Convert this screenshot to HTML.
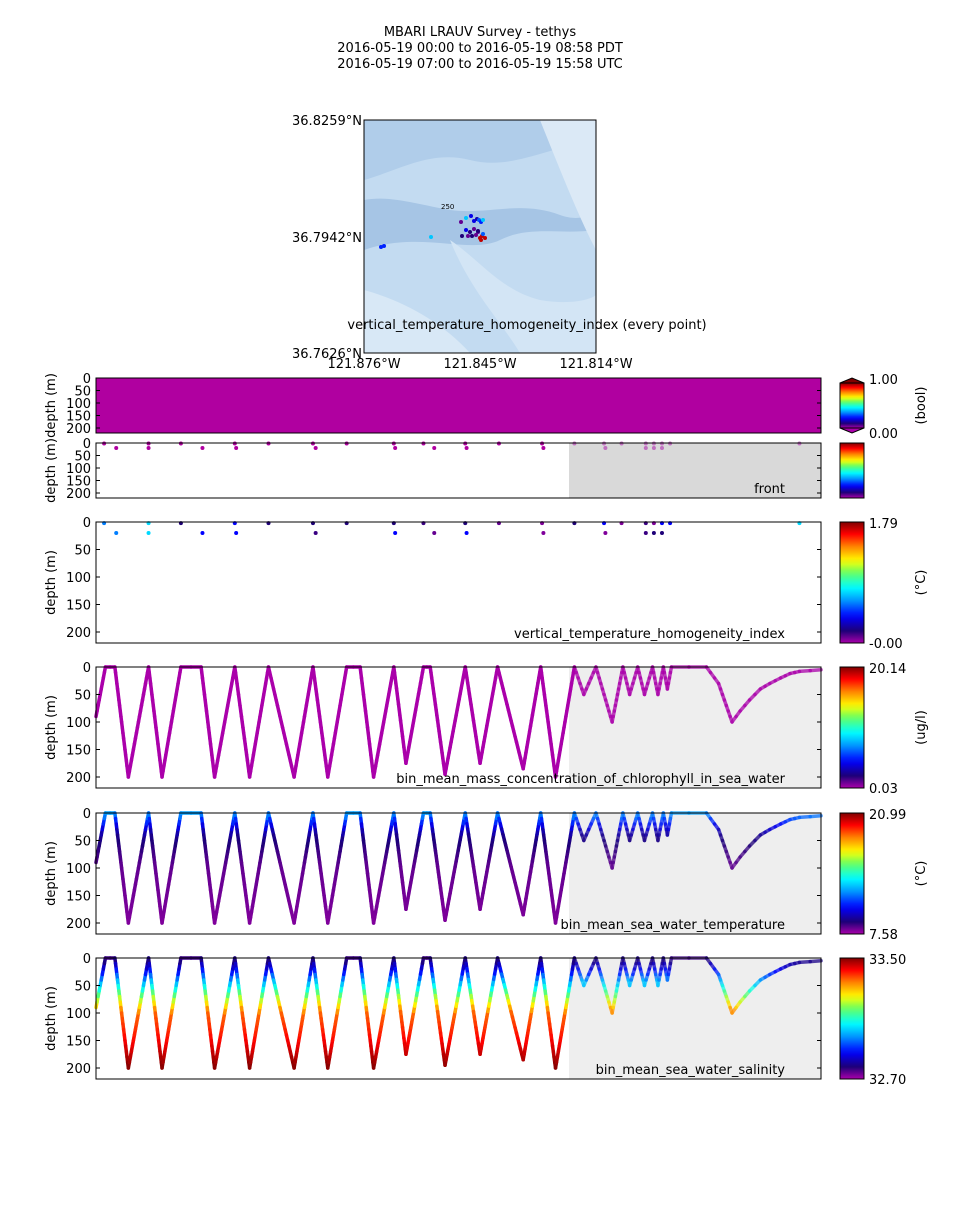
<!DOCTYPE html>
<html><head><meta charset="utf-8"><style>
body{margin:0;background:#fff;}
svg text{font-family:"DejaVu Sans","Liberation Sans",sans-serif;fill:#000;}
</style></head><body>
<svg id="fig" width="960" height="1200" xmlns="http://www.w3.org/2000/svg">
<text x="480" y="36" text-anchor="middle" font-size="13">MBARI LRAUV Survey - tethys</text>
<text x="480" y="52" text-anchor="middle" font-size="13">2016-05-19 00:00  to  2016-05-19 08:58 PDT</text>
<text x="480" y="68" text-anchor="middle" font-size="13">2016-05-19 07:00  to  2016-05-19 15:58 UTC</text>
<g id="map">
<rect x="364" y="120" width="232" height="233" fill="#c3dbf1"/>
<path d="M364,180 C400,170 430,150 470,160 C510,170 540,150 596,140 L596,120 L364,120Z" fill="#b0cdea"/>
<path d="M364,200 C390,195 420,205 450,210 C490,215 520,200 560,215 C580,222 590,215 596,210 L596,230 C560,235 530,225 500,240 C470,255 420,230 364,250Z" fill="#a6c5e5"/>
<path d="M450,240 C480,260 500,290 540,300 C570,305 590,300 596,295 L596,353 L520,353 C500,320 470,290 450,240Z" fill="#d3e5f5"/>
<path d="M364,290 C400,300 440,320 470,353 L364,353Z" fill="#d8e8f6"/>
<path d="M540,120 L596,120 L596,250 C580,220 560,170 540,120Z" fill="#dbe9f6"/>
<rect x="364" y="120" width="232" height="233" fill="none" stroke="#000" stroke-width="1"/>
<text x="441" y="209" font-size="7" fill="#333">250</text>
<g id="mapdots"></g>
</g>
<text x="362" y="125" text-anchor="end" font-size="13">36.8259°N</text>
<text x="362" y="242" text-anchor="end" font-size="13">36.7942°N</text>
<text x="362" y="358" text-anchor="end" font-size="13">36.7626°N</text>
<text x="364" y="368" text-anchor="middle" font-size="13">121.876°W</text>
<text x="480" y="368" text-anchor="middle" font-size="13">121.845°W</text>
<text x="596" y="368" text-anchor="middle" font-size="13">121.814°W</text>
<text x="527" y="329" text-anchor="middle" font-size="13">vertical_temperature_homogeneity_index (every point)</text>
<g id="panels"></g>
</svg>
<script>
// Profile (minutes since start, depth m)
const profT=[0,7,14,24,39,49,63,78,88,103,114,128,147,161,172,186,196,206,221,230,243,248,259,274,285,298,317,330,341,355,362,371,383,391,396,402,407,413,417,421,424,427,453,462,472,478,485,493,500,508,515,522,538];
const profD=[90,0,0,200,0,200,0,0,200,0,200,0,200,0,200,0,0,200,0,175,0,0,195,0,175,0,185,0,200,0,50,0,100,0,50,0,50,0,50,0,40,0,0,30,100,80,60,40,30,20,12,8,5];
// Dots for vertical temperature homogeneity index
const dotT=[6,15,39,39,63,79,103,104,128,161,163,186,221,222,243,251,274,275,299,331,332,355,377,378,390,408,408,414,414,420,420,426,522];
const dotD=[2,20,2,20,2,20,2,20,2,2,20,2,2,20,2,20,2,20,2,2,20,2,2,20,2,2,20,2,20,2,20,2,2];
const dotV=[0.33,0.33,0.42,0.42,0.1,0.22,0.22,0.22,0.1,0.1,0.08,0.1,0.1,0.22,0.08,0.05,0.1,0.22,0.05,0.03,0.03,0.1,0.22,0.03,0.03,0.08,0.08,0.03,0.1,0.22,0.1,0.22,0.42];
// colour value vs depth
const depthLevels=[0,20,40,70,100,150,200];
const salinityNorm=[0.08,0.2,0.36,0.6,0.82,0.9,1.0];
const tempNorm=[0.36,0.22,0.12,0.08,0.05,0.04,0.03];
const chlNorm=[0,0,0,0,0,0,0];

const stops=[[0,[170,0,170]],[0.1,[30,0,120]],[0.22,[0,0,255]],[0.36,[0,160,255]],[0.46,[0,255,255]],[0.58,[100,255,100]],[0.68,[255,255,0]],[0.8,[255,128,0]],[0.9,[255,0,0]],[1,[128,0,0]]];
function cmap(v){v=Math.max(0,Math.min(1,v));for(let i=1;i<stops.length;i++){if(v<=stops[i][0]){const a=stops[i-1],b=stops[i],f=(v-a[0])/(b[0]-a[0]);const c=a[1].map((x,k)=>Math.round(x+(b[1][k]-x)*f));return `rgb(${c})`;}}return 'rgb(128,0,0)';}
function interp(xs,ys,x){if(x<=xs[0])return ys[0];for(let i=1;i<xs.length;i++)if(x<=xs[i])return ys[i-1]+(ys[i]-ys[i-1])*(x-xs[i-1])/(xs[i]-xs[i-1]);return ys[ys.length-1];}
const NS='http://www.w3.org/2000/svg';
function mk(tag,attrs,parent){const e=document.createElementNS(NS,tag);for(const k in attrs)e.setAttribute(k,attrs[k]);parent.appendChild(e);return e;}
const X0=96,X1=821,TMAX=538,DMAX=220;
const xs=t=>X0+t/TMAX*(X1-X0);
const G=document.getElementById('panels');

const panels=[
 {top:378,h:55,kind:'fill',label:'',cbTop:'1.00',cbBot:'0.00',unit:'(bool)',gray:null,ext:true},
 {top:443,h:55,kind:'dots2',label:'front',cbTop:'',cbBot:'',unit:'',gray:'#d9d9d9'},
 {top:522,h:121,kind:'dots',label:'vertical_temperature_homogeneity_index',cbTop:'1.79',cbBot:'-0.00',unit:'(°C)',gray:null},
 {top:667,h:121,kind:'line',norm:chlNorm,label:'bin_mean_mass_concentration_of_chlorophyll_in_sea_water',cbTop:'20.14',cbBot:'0.03',unit:'(ug/l)',gray:'#eeeeee'},
 {top:813,h:121,kind:'line',norm:tempNorm,label:'bin_mean_sea_water_temperature',cbTop:'20.99',cbBot:'7.58',unit:'(°C)',gray:'#eeeeee'},
 {top:958,h:121,kind:'line',norm:salinityNorm,label:'bin_mean_sea_water_salinity',cbTop:'33.50',cbBot:'32.70',unit:'',gray:'#eeeeee'}
];

const defs=mk('defs',{},G);
const lg=mk('linearGradient',{id:'jet',x1:0,y1:1,x2:0,y2:0},defs);
for(let i=0;i<=20;i++)mk('stop',{offset:i/20,'stop-color':cmap(i/20)},lg);

panels.forEach((p,pi)=>{
 const g=mk('g',{},G);
 
 
 const ys=d=>p.top+d/DMAX*p.h;
 if(p.gray){mk('rect',{x:xs(351),y:p.top,width:X1-xs(351),height:p.h,fill:p.gray},g);}
 if(p.kind==='fill'){mk('rect',{x:X0,y:p.top,width:X1-X0,height:p.h,fill:'#b000a0'},g);}
 if(p.kind==='line'){
  for(let i=1;i<profT.length;i++){
   const n=Math.max(2,Math.ceil(Math.abs(profD[i]-profD[i-1])/10));
   for(let k=0;k<n;k++){
    const t0=profT[i-1]+(profT[i]-profT[i-1])*k/n,t1=profT[i-1]+(profT[i]-profT[i-1])*(k+1)/n;
    const d0=profD[i-1]+(profD[i]-profD[i-1])*k/n,d1=profD[i-1]+(profD[i]-profD[i-1])*(k+1)/n;
    const v=interp(depthLevels,p.norm,(d0+d1)/2);
    const s=mk('line',{x1:xs(t0),y1:ys(d0),x2:xs(t1),y2:ys(d1),stroke:cmap(v),'stroke-width':3.5,'stroke-linecap':'round','stroke-opacity':t0>=355?0.75:1},g);
    
    
   }
  }
 }
 if(p.kind==='dots'||p.kind==='dots2'){
  dotT.forEach((t,i)=>{
   const c=mk('circle',{cx:xs(t),cy:ys(dotD[i]),r:2,fill:p.kind==='dots'?cmap(dotV[i]):(t>=355?'#c070c0':'#b000a0')},g);
   
   
  });
 }
 mk('rect',{x:X0,y:p.top,width:X1-X0,height:p.h,fill:'none',stroke:'#000','stroke-width':1},g);
 [0,50,100,150,200].forEach(tk=>{
  const y=ys(tk);
  mk('line',{x1:X0,y1:y,x2:X0+4,y2:y,stroke:'#000'},g);
  mk('line',{x1:X1,y1:y,x2:X1-4,y2:y,stroke:'#000'},g);
  const tx=mk('text',{x:91,y:y+5,'text-anchor':'end','font-size':13},g);tx.textContent=tk;
  
  
 });
 const yl=mk('text',{x:0,y:0,'text-anchor':'middle','font-size':13,transform:`translate(55,${p.top+p.h/2}) rotate(-90)`},g);
 yl.textContent='depth (m)';
 
 
 if(p.label){const lt=mk('text',{x:785,y:p.top+p.h-5,'text-anchor':'end','font-size':13},g);lt.textContent=p.label;
  
  }
 const cb=mk('g',{},g);
 
 
 let ct=p.top,ch=p.h;
 if(p.ext){mk('path',{d:`M840,${ct+5} L852,${ct} L864,${ct+5}Z`,fill:'#800000',stroke:'#000'},cb);mk('path',{d:`M840,${ct+ch-5} L852,${ct+ch} L864,${ct+ch-5}Z`,fill:'#aa00aa',stroke:'#000'},cb);ct+=5;ch-=10;}
 mk('rect',{x:840,y:ct,width:24,height:ch,fill:'url(#jet)',stroke:'#000','stroke-width':1},cb);
 if(p.cbTop){const a=mk('text',{x:869,y:p.top+6,'font-size':13},cb);a.textContent=p.cbTop;}
 if(p.cbBot){const b=mk('text',{x:869,y:p.top+p.h+5,'font-size':13},cb);b.textContent=p.cbBot;}
 if(p.unit){const u=mk('text',{x:0,y:0,'text-anchor':'middle','font-size':13,transform:`translate(925,${p.top+p.h/2}) rotate(-90)`},cb);u.textContent=p.unit;}
});
// map dots
const mapX=[381,384,431,461,466,471,474,477,479,481,483,462,468,472,476,478,480,482,485,466,470,474,478,481,483];
const mapY=[247,246,237,222,218,216,221,219,220,222,220,236,236,236,235,232,238,236,238,230,232,229,231,240,234];
const mapV=[0.25,0.25,0.4,0.05,0.4,0.2,0.2,0.15,0.3,0.25,0.4,0.1,0.05,0.1,0.05,0.05,0.95,0.95,0.95,0.2,0.1,0.05,0.1,0.95,0.3];
const md=document.getElementById('mapdots');
mapX.forEach((x,i)=>{const c=mk('circle',{cx:x,cy:mapY[i],r:2,fill:cmap(mapV[i])},md);
 
 });
</script>
</body></html>
